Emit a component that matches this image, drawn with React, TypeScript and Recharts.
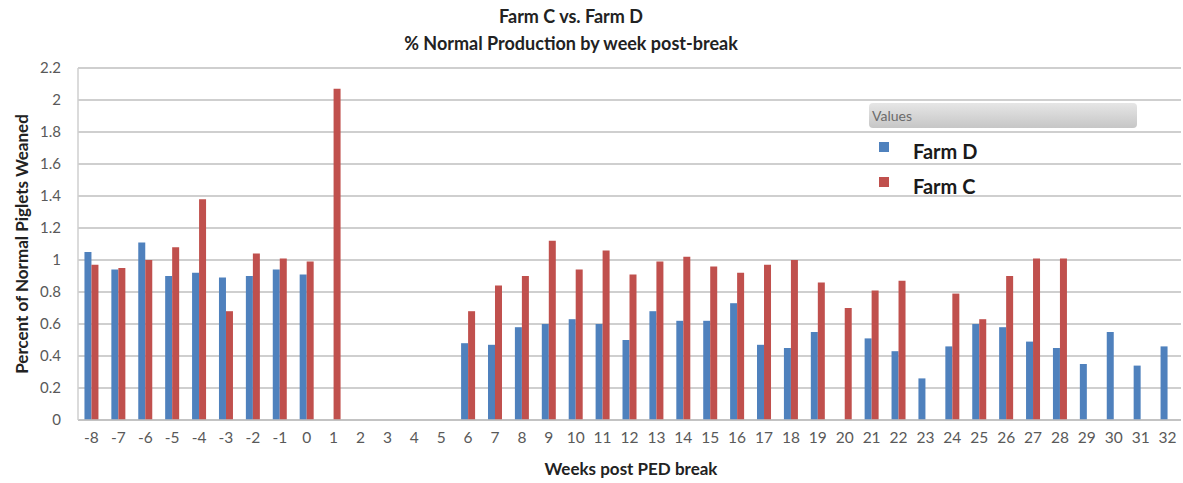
import { Bar, BarChart, CartesianGrid, XAxis, YAxis } from 'recharts'

const weeks = [
  '-8', '-7', '-6', '-5', '-4', '-3', '-2', '-1', '0', '1', '2', '3', '4', '5', '6', '7', '8', '9', '10', '11',
  '12', '13', '14', '15', '16', '17', '18', '19', '20', '21', '22', '23', '24', '25', '26', '27', '28', '29',
  '30', '31', '32',
]

const farmD = [
  1.05, 0.94, 1.11, 0.9, 0.92, 0.89, 0.9, 0.94, 0.91, null, null, null, null, null, 0.48, 0.47, 0.58, 0.6, 0.63,
  0.6, 0.5, 0.68, 0.62, 0.62, 0.73, 0.47, 0.45, 0.55, null, 0.51, 0.43, 0.26, 0.46, 0.6, 0.58, 0.49, 0.45, 0.35,
  0.55, 0.34, 0.46,
]

const farmC = [
  0.97, 0.95, 1.0, 1.08, 1.38, 0.68, 1.04, 1.01, 0.99, 2.07, null, null, null, null, 0.68, 0.84, 0.9, 1.12, 0.94,
  1.06, 0.91, 0.99, 1.02, 0.96, 0.92, 0.97, 1.0, 0.86, 0.7, 0.81, 0.87, null, 0.79, 0.63, 0.9, 1.01, 1.01, null,
  null, null, null,
]

const yTicks = [0, 0.2, 0.4, 0.6, 0.8, 1, 1.2, 1.4, 1.6, 1.8, 2, 2.2]

const data = weeks.map((week, i) => ({ week, farmD: farmD[i], farmC: farmC[i] }))

const BLUE = '#4F81BD'
const RED = '#C0504D'
const FONT = 'Lato, "Open Sans", sans-serif'

function LegendBox() {
  const items = [
    { label: 'Farm D', color: BLUE, top: 39 },
    { label: 'Farm C', color: RED, top: 74 },
  ]
  return (
    <div style={{ position: 'absolute', left: 869, top: 103, width: 270, height: 100, fontFamily: FONT }}>
      <div
        style={{
          width: 268,
          height: 25,
          borderRadius: 4,
          background: 'linear-gradient(#e6e6e6, #c6c6c6)',
          color: '#6b6b6b',
          fontSize: 14,
          lineHeight: '25px',
          paddingLeft: 3,
          boxSizing: 'border-box',
        }}
      >
        Values
      </div>
      {items.map((it) => (
        <div key={it.label}>
          <span
            style={{ position: 'absolute', left: 10, top: it.top, width: 10, height: 10, background: it.color }}
          />
          <span
            style={{
              position: 'absolute',
              left: 44,
              top: it.top - 3,
              fontSize: 20,
              lineHeight: '24px',
              fontWeight: 700,
              color: '#1a1a1a',
            }}
          >
            {it.label}
          </span>
        </div>
      ))}
    </div>
  )
}

export default function App() {
  return (
    <div style={{ position: 'absolute', left: 0, top: 0, width: 1183, height: 483, background: '#fff' }}>
      <BarChart
        width={1183}
        height={483}
        data={data}
        margin={{ top: 68, right: 2, bottom: 0, left: 20 }}
        barCategoryGap="24%"
        barGap={0}
      >
        <CartesianGrid vertical={false} stroke="#cfcfcf" strokeWidth={1.8} />
        <XAxis
          dataKey="week"
          interval={0}
          tickLine={false}
          axisLine={{ stroke: '#bfbfbf', strokeWidth: 1.5 }}
          tick={{ fill: '#595959', fontSize: 15.5, fontFamily: FONT }}
          tickMargin={6}
          height={63}
        />
        <YAxis
          domain={[0, 2.2]}
          ticks={yTicks}
          tickFormatter={(v: number) => String(v)}
          width={58}
          tickLine={false}
          axisLine={{ stroke: '#cfcfcf', strokeWidth: 1.5 }}
          tick={{ fill: '#595959', fontSize: 15, fontFamily: FONT }}
          tickMargin={11}
        />
        <Bar dataKey="farmD" name="Farm D" fill={BLUE} isAnimationActive={false} />
        <Bar dataKey="farmC" name="Farm C" fill={RED} isAnimationActive={false} />
      </BarChart>
      <div
        style={{
          position: 'absolute',
          left: 0,
          width: 1142,
          top: 3,
          textAlign: 'center',
          fontFamily: FONT,
          fontWeight: 700,
          fontSize: 18,
          lineHeight: '27px',
          color: '#222',
        }}
      >
        Farm C vs. Farm D
        <br />% Normal Production by week post-break
      </div>
      <div
        style={{
          position: 'absolute',
          left: 21,
          top: 244,
          transform: 'translate(-50%, -50%) rotate(-90deg)',
          whiteSpace: 'nowrap',
          fontFamily: FONT,
          fontWeight: 700,
          fontSize: 17,
          color: '#222',
        }}
      >
        Percent of Normal Piglets Weaned
      </div>
      <div
        style={{
          position: 'absolute',
          left: 0,
          width: 1262,
          top: 458,
          textAlign: 'center',
          fontFamily: FONT,
          fontWeight: 700,
          fontSize: 17,
          color: '#222',
        }}
      >
        Weeks post PED break
      </div>
      <LegendBox />
    </div>
  )
}
